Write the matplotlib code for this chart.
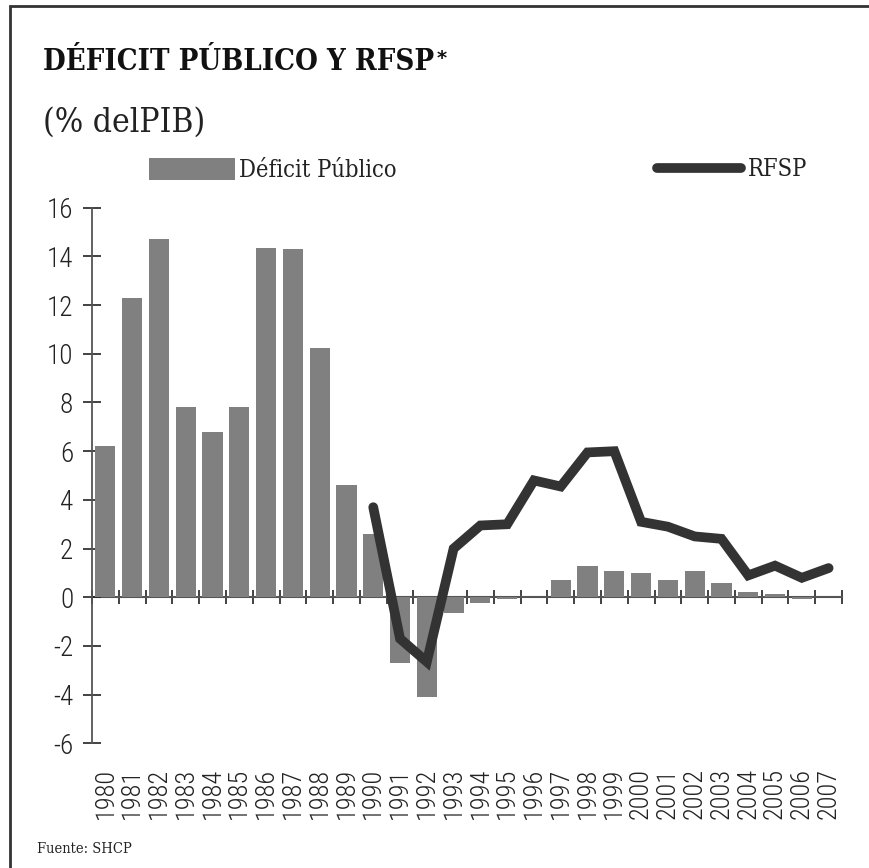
import matplotlib
matplotlib.use("Agg")
import matplotlib.pyplot as plt
from matplotlib.patches import Rectangle, Patch
from matplotlib.lines import Line2D
from matplotlib import font_manager as fm

# ---------------- data ----------------
years = [str(y) for y in range(1980, 2008)]
deficit = [6.2, 12.3, 14.7, 7.8, 6.8, 7.8, 14.35, 14.3, 10.25, 4.6,
           2.6, -2.7, -4.1, -0.65, -0.25, -0.05, 0.0, 0.7, 1.3, 1.1,
           1.0, 0.7, 1.1, 0.6, 0.2, 0.15, -0.06, 0.0]
rfsp_years = [str(y) for y in range(1990, 2008)]
rfsp = [3.7, -1.7, -2.65, 2.0, 2.95, 3.0, 4.8, 4.55, 5.95, 6.0,
        3.1, 2.9, 2.5, 2.4, 0.9, 1.3, 0.8, 1.2]
yticks = list(range(-6, 17, 2))

title = "DÉFICIT PÚBLICO Y RFSP"
subtitle = "(% delPIB)"
source = "Fuente: SHCP"
bar_label = "Déficit Público"
line_label = "RFSP"

BAR_C = "#808080"
LINE_C = "#333333"

names = {f.name for f in fm.fontManager.ttflist}
SERIF = dict(family="DejaVu Serif", stretch="condensed")
if "Roboto Condensed" in names:
    SANS = dict(family="Roboto Condensed", weight="light")
else:
    SANS = dict(family="DejaVu Sans", stretch="condensed")

W, H = 870, 868
fig = plt.figure(figsize=(W / 100, H / 100), dpi=100)

ymin, ymax = -6, 16
ax = fig.add_axes([92 / W, 1 - 743.4 / H, 750 / W, (743.4 - 207.7) / H])
x = list(range(len(years)))
ax.bar(x, deficit, width=0.75, color=BAR_C, zorder=2)
xl = [years.index(y) for y in rfsp_years]
ax.plot(xl, rfsp, color=LINE_C, lw=7, solid_capstyle="round",
        solid_joinstyle="miter", zorder=3)

ax.set_xlim(-0.5, len(years) - 0.5)
ax.set_ylim(ymin, ymax)
for s in ("top", "right", "bottom"):
    ax.spines[s].set_visible(False)
ax.spines["left"].set_color("#555555")
ax.spines["left"].set_linewidth(1.3)
ax.set_yticks(yticks)
ax.set_yticklabels([str(v) for v in yticks], fontsize=19.5, color="#222222", **SANS)
ax.tick_params(axis="y", direction="inout", length=13, width=1.2, color="#222222", pad=7)

ax.set_xticks(x)
ax.set_xticklabels(years, rotation=90, fontsize=19, color="#222222", **SANS)
ax.tick_params(axis="x", length=0, pad=17.5)

# zero axis with category-boundary ticks
sec = ax.secondary_xaxis((0 - ymin) / (ymax - ymin))
sec.set_xticks([i - 0.5 for i in range(len(years) + 1)])
sec.set_xticklabels([])
sec.tick_params(direction="inout", length=10, width=1.2, color="#222222")
sec.spines["bottom"].set_color("#555555")
sec.spines["bottom"].set_linewidth(1.5)

# titles
t = fig.text(43 / W, 1 - 70.5 / H, title, fontsize=21, fontweight="bold",
             va="baseline", ha="left", color="#111111", **SERIF)
ax.annotate("*", xy=(1, 1), xycoords=t, xytext=(2, -1), textcoords="offset points",
            fontsize=14, fontweight="bold", ha="left", va="top", color="#111111",
            annotation_clip=False, family="DejaVu Sans")
fig.text(43 / W, 1 - 132 / H, subtitle, fontsize=24, va="baseline", ha="left",
         color="#222222", **SERIF)
fig.text(37 / W, 1 - 853 / H, source, fontsize=10.5, va="baseline", ha="left",
         color="#222222", **SERIF)

# legends
lfs = 17
fp = fm.FontProperties(size=lfs, **SERIF)
leg1 = fig.legend(handles=[Patch(facecolor=BAR_C, edgecolor="none", label=bar_label)],
                  loc="center left", bbox_to_anchor=(149 / W, 1 - 170 / H),
                  frameon=False, borderpad=0, borderaxespad=0, prop=fp,
                  handlelength=86 / (lfs * 100 / 72), handleheight=1.1,
                  handletextpad=0.15, labelcolor="#222222")
leg2 = fig.legend(handles=[Line2D([], [], color=LINE_C, lw=7, solid_capstyle="round",
                                  label=line_label)],
                  loc="center left", bbox_to_anchor=(657 / W, 1 - 170 / H),
                  frameon=False, borderpad=0, borderaxespad=0, prop=fp,
                  handlelength=84 / (lfs * 100 / 72), handletextpad=0.3,
                  labelcolor="#222222")

# outer frame (top and left edges visible)
fig.add_artist(Rectangle((10 / W, -0.1), 1.2, 1.1 - 6 / H, transform=fig.transFigure,
                         fill=False, edgecolor="#333333", lw=2))

fig.savefig("out.png", dpi=100)
